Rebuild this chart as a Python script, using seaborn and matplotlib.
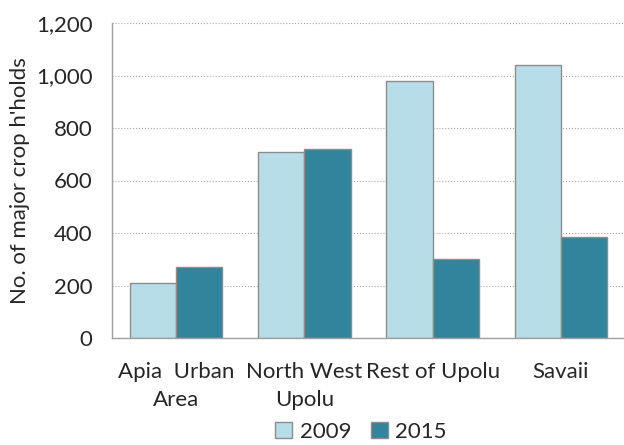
import numpy as np
import seaborn as sns
import pandas as pd
import matplotlib.pyplot as plt

regions = ['Apia  Urban\nArea', 'North West\nUpolu', 'Rest of Upolu', 'Savaii']
years = ['2009', '2015']
holds_2009 = [210, 710, 980, 1040]
holds_2015 = [270, 720, 300, 385]

df = pd.DataFrame({
    'region': regions * 2,
    'year': [years[0]] * 4 + [years[1]] * 4,
    'holds': holds_2009 + holds_2015,
})

sns.set_style('white')
plt.rcParams['font.family'] = ['Lato', 'DejaVu Sans']

colors = ['#B7DDE8', '#31849B']

fig = plt.figure(figsize=(6.24, 4.45), dpi=100)
ax = fig.add_axes([112 / 624, 107 / 445, 513 / 624, 315 / 445])

sns.barplot(data=df, x='region', y='holds', hue='year', palette=colors,
            saturation=1, width=0.72, edgecolor='#8C8C8C', linewidth=1, ax=ax)

ax.set_ylim(0, 1200)
ax.set_yticks(np.arange(0, 1201, 200))
ax.set_yticklabels([f'{v:,}' for v in range(0, 1201, 200)], fontsize=16)
ax.set_xticks(range(len(regions)))
ax.set_xticklabels(regions, fontsize=16, linespacing=1.5)
ax.tick_params(axis='x', length=0, pad=17)
ax.tick_params(axis='y', length=0, pad=14)
ax.yaxis.grid(True, linestyle=':', color='#A8A8A8', linewidth=0.8)
ax.set_axisbelow(True)
ax.set_xlabel('')
ax.set_ylabel("No. of major crop h'holds", fontsize=16, labelpad=4)

for s in ['top', 'right']:
    ax.spines[s].set_visible(False)
for s in ['left', 'bottom']:
    ax.spines[s].set_color('#A0A0A0')
    ax.spines[s].set_linewidth(1)

ax.legend(title=None, loc='center', bbox_to_anchor=(361 / 624, 13 / 445),
          bbox_transform=fig.transFigure, ncol=2, frameon=False, fontsize=16,
          handlelength=0.75, handleheight=0.75, handletextpad=0.35,
          columnspacing=0.9, borderpad=0)

fig.savefig('out.png', dpi=100)
